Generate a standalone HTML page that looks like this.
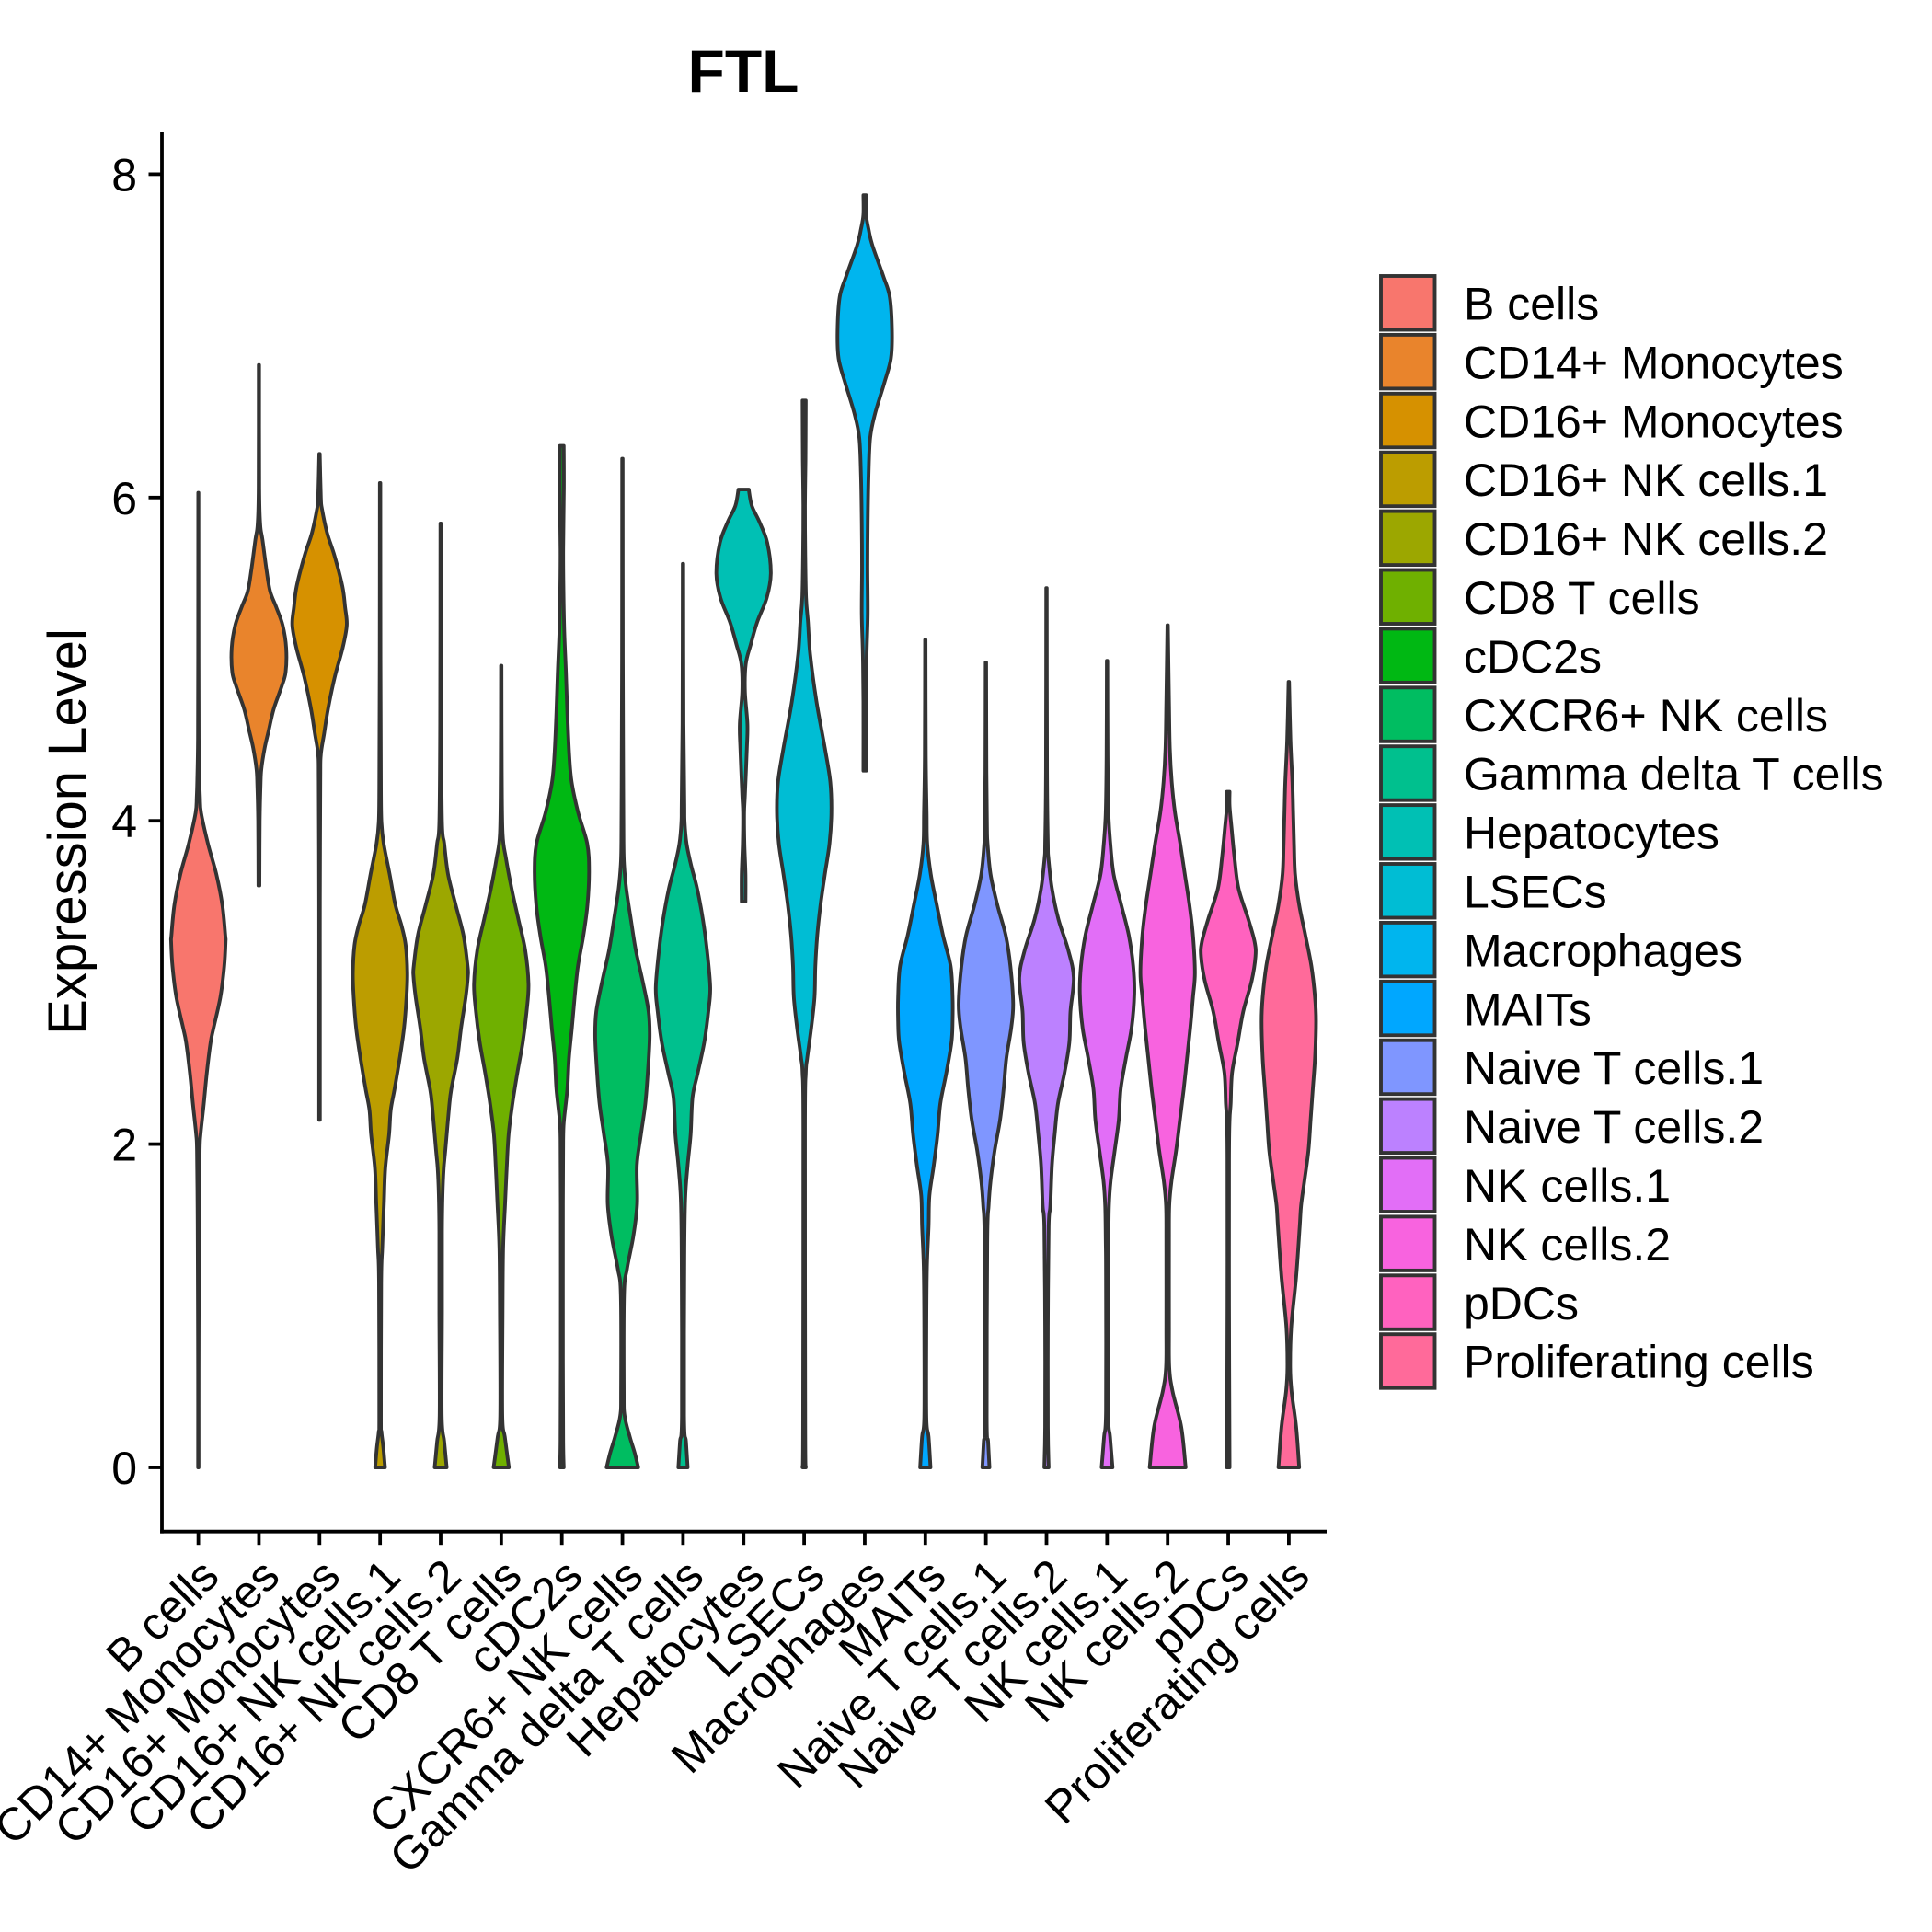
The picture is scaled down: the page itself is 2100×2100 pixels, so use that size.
<!DOCTYPE html>
<html>
<head>
<meta charset="utf-8">
<title>FTL violin plot</title>
<style>
  html, body { margin: 0; padding: 0; background: #ffffff; }
  svg { display: block; }
  text { font-family: "Liberation Sans", Arial, sans-serif; fill: #000000; }
</style>
</head>
<body>
<svg id="chart" xmlns="http://www.w3.org/2000/svg" width="2100" height="2100" viewBox="0 0 2100 2100">
  <rect x="0" y="0" width="2100" height="2100" fill="#ffffff"></rect>
  <text x="808" y="100" font-size="66" font-weight="bold" text-anchor="middle">FTL</text>
  <text transform="translate(93 904) rotate(-90)" font-size="58" text-anchor="middle">Expression Level</text>
  <g id="violins"></g>
  <g id="axes"></g>
  <g id="legend"></g>
</svg>
<script>
const categories = ["B cells", "CD14+ Monocytes", "CD16+ Monocytes", "CD16+ NK cells.1", "CD16+ NK cells.2", "CD8 T cells", "cDC2s", "CXCR6+ NK cells", "Gamma delta T cells", "Hepatocytes", "LSECs", "Macrophages", "MAITs", "Naive T cells.1", "Naive T cells.2", "NK cells.1", "NK cells.2", "pDCs", "Proliferating cells"];
const colors = ["#F8766D", "#E9842C", "#D69100", "#BC9D00", "#9CA700", "#6FB000", "#00B813", "#00BD61", "#00C08E", "#00C0B4", "#00BDD4", "#00B5EE", "#00A7FF", "#7F96FF", "#BC81FF", "#E26EF7", "#F863DF", "#FF62BF", "#FF6A9A"];
const yTicks = [0, 2, 4, 6, 8];

// Expression levels (top to bottom) and relative violin widths for each cell type
const bCellsLevels = [6.03, 5, 4.5, 4.25, 4.145, 4.05, 3.86, 3.67, 3.48, 3.29, 3.25, 3.1, 2.91, 2.72, 2.63, 2.44, 2.25, 2.06, 1.96, 1.6, 1.2, 0.6, 0];
const bCellsWidths = [0.005, 0.008, 0.015, 0.04, 0.06, 0.1, 0.35, 0.66, 0.88, 0.99, 1, 0.95, 0.81, 0.56, 0.45, 0.31, 0.2, 0.08, 0.05, 0.03, 0.02, 0.01, 0.01];

const cd14MonoLevels = [6.82, 6.06, 5.83, 5.74, 5.55, 5.42, 5.32, 5.21, 5.07, 4.92, 4.83, 4.69, 4.56, 4.45, 4.32, 4.22, 4.0, 3.6];
const cd14MonoWidths = [0.008, 0.012, 0.05, 0.13, 0.28, 0.41, 0.64, 0.87, 1, 0.98, 0.83, 0.54, 0.36, 0.21, 0.09, 0.06, 0.03, 0.02];

const cd16MonoLevels = [6.27, 6.0, 5.93, 5.78, 5.64, 5.45, 5.32, 5.21, 5.07, 4.89, 4.69, 4.54, 4.41, 4.25, 3.5, 3.0, 2.15];
const cd16MonoWidths = [0.01, 0.05, 0.09, 0.28, 0.55, 0.84, 0.94, 1, 0.85, 0.56, 0.31, 0.17, 0.05, 0.03, 0.015, 0.015, 0.015];

const cd16Nk1Levels = [6.09, 5, 4.2, 3.99, 3.86, 3.67, 3.48, 3.35, 3.23, 3.06, 2.91, 2.72, 2.53, 2.34, 2.21, 2.06, 1.85, 1.63, 1.36, 1.14, 0.3, 0.22, 0.12, 0];
const cd16Nk1Widths = [0.01, 0.015, 0.03, 0.05, 0.13, 0.35, 0.56, 0.79, 0.94, 1, 0.97, 0.88, 0.72, 0.53, 0.39, 0.33, 0.19, 0.14, 0.08, 0.04, 0.03, 0.05, 0.12, 0.18];

const cd16Nk2Levels = [5.84, 4.6, 3.99, 3.86, 3.67, 3.48, 3.29, 3.1, 3.04, 2.91, 2.72, 2.53, 2.34, 2.23, 1.96, 1.85, 1.69, 1.46, 0.97, 0.32, 0.16, 0];
const cd16Nk2Widths = [0.01, 0.02, 0.05, 0.13, 0.27, 0.55, 0.84, 0.99, 1, 0.92, 0.75, 0.61, 0.39, 0.31, 0.17, 0.11, 0.07, 0.05, 0.05, 0.04, 0.13, 0.22];

const cd8TLevels = [4.96, 4.3, 3.92, 3.77, 3.58, 3.39, 3.2, 2.99, 2.82, 2.63, 2.44, 2.25, 2.06, 1.85, 1.63, 1.36, 0.97, 0.32, 0.19, 0];
const cd8TWidths = [0.01, 0.02, 0.05, 0.17, 0.38, 0.63, 0.88, 1, 0.93, 0.79, 0.59, 0.41, 0.27, 0.2, 0.14, 0.07, 0.05, 0.04, 0.13, 0.28];

const cdc2sLevels = [6.32, 6.06, 5.68, 5.43, 5.17, 4.92, 4.67, 4.41, 4.24, 4.05, 3.86, 3.69, 3.48, 3.29, 3.1, 2.91, 2.72, 2.53, 2.34, 2.15, 2.03, 1.63, 0.65, 0.16, 0];
const cdc2sWidths = [0.07, 0.075, 0.05, 0.06, 0.09, 0.15, 0.2, 0.27, 0.36, 0.6, 0.93, 1, 0.94, 0.79, 0.59, 0.47, 0.37, 0.26, 0.2, 0.08, 0.05, 0.04, 0.04, 0.05, 0.07];

const cxcr6NkLevels = [6.24, 5, 4.2, 3.86, 3.73, 3.58, 3.39, 3.2, 3.01, 2.82, 2.66, 2.44, 2.25, 2.06, 1.87, 1.63, 1.43, 1.23, 1.07, 0.48, 0.32, 0.19, 0.09, 0];
const cxcr6NkWidths = [0.01, 0.015, 0.03, 0.04, 0.06, 0.14, 0.31, 0.49, 0.74, 0.96, 1, 0.93, 0.84, 0.68, 0.53, 0.54, 0.4, 0.17, 0.06, 0.05, 0.08, 0.27, 0.45, 0.58];

const gammaDeltaLevels = [5.59, 4.6, 4.11, 3.99, 3.86, 3.73, 3.58, 3.39, 3.2, 2.97, 2.82, 2.63, 2.44, 2.29, 2.06, 1.87, 1.66, 1.3, 0.32, 0.16, 0];
const gammaDeltaWidths = [0.01, 0.02, 0.05, 0.06, 0.13, 0.29, 0.52, 0.73, 0.88, 1, 0.93, 0.78, 0.54, 0.35, 0.28, 0.17, 0.08, 0.05, 0.04, 0.11, 0.17];

const hepatocytesLevels = [6.05, 5.95, 5.85, 5.72, 5.53, 5.38, 5.23, 5.09, 4.97, 4.8, 4.6, 4.45, 4.16, 4.05, 3.86, 3.67, 3.5];
const hepatocytesWidths = [0.19, 0.3, 0.58, 0.87, 1, 0.85, 0.5, 0.26, 0.08, 0.05, 0.14, 0.12, 0.05, 0.02, 0.03, 0.07, 0.07];

const lsecsLevels = [6.6, 6.23, 5.95, 5.66, 5.38, 5.23, 5.03, 4.74, 4.45, 4.24, 4.05, 3.86, 3.67, 3.48, 3.29, 3.1, 2.91, 2.72, 2.53, 2.44, 2.1, 0.25, 0];
const lsecsWidths = [0.06, 0.05, 0.03, 0.04, 0.07, 0.14, 0.22, 0.45, 0.76, 0.96, 1, 0.93, 0.76, 0.6, 0.48, 0.41, 0.38, 0.26, 0.11, 0.06, 0.03, 0.04, 0.06];

const macrophagesLevels = [7.87, 7.75, 7.66, 7.56, 7.37, 7.24, 7.03, 6.86, 6.71, 6.52, 6.37, 6.14, 5.85, 5.57, 5.28, 5.03, 4.74, 4.31];
const macrophagesWidths = [0.05, 0.05, 0.14, 0.28, 0.68, 0.92, 1, 0.96, 0.72, 0.38, 0.2, 0.14, 0.11, 0.1, 0.11, 0.07, 0.05, 0.05];

const maitsLevels = [5.12, 4.4, 4.05, 3.86, 3.67, 3.48, 3.29, 3.1, 2.91, 2.76, 2.63, 2.44, 2.25, 2.06, 1.87, 1.68, 1.49, 1.24, 0.87, 0.31, 0.19, 0];
const maitsWidths = [0.01, 0.02, 0.05, 0.07, 0.2, 0.42, 0.65, 0.93, 1, 1, 0.96, 0.77, 0.55, 0.45, 0.31, 0.15, 0.12, 0.06, 0.04, 0.04, 0.12, 0.19];

const naiveT1Levels = [4.98, 4.3, 3.96, 3.86, 3.67, 3.48, 3.29, 3.1, 2.87, 2.72, 2.53, 2.34, 2.15, 1.96, 1.77, 1.62, 1.4, 0.31, 0.16, 0];
const naiveT1Widths = [0.01, 0.02, 0.04, 0.06, 0.17, 0.42, 0.73, 0.9, 1, 0.93, 0.75, 0.65, 0.52, 0.32, 0.17, 0.1, 0.05, 0.03, 0.08, 0.13];

const naiveT2Levels = [5.44, 4.3, 3.86, 3.77, 3.58, 3.39, 3.2, 3.03, 2.82, 2.63, 2.44, 2.25, 2.06, 1.87, 1.62, 1.49, 0.87, 0.25, 0];
const naiveT2Widths = [0.01, 0.02, 0.05, 0.07, 0.2, 0.44, 0.8, 1, 0.88, 0.84, 0.66, 0.42, 0.3, 0.2, 0.14, 0.08, 0.05, 0.05, 0.08];

const nk1Levels = [4.99, 4.4, 4.05, 3.86, 3.67, 3.48, 3.29, 3.1, 2.93, 2.72, 2.53, 2.34, 2.15, 1.96, 1.77, 1.62, 1.4, 1.18, 0.35, 0.19, 0];
const nk1Widths = [0.01, 0.02, 0.05, 0.12, 0.24, 0.52, 0.8, 0.96, 1, 0.9, 0.69, 0.5, 0.43, 0.28, 0.13, 0.07, 0.05, 0.04, 0.04, 0.11, 0.2];

const nk2Levels = [5.21, 4.74, 4.45, 4.24, 4.05, 3.86, 3.67, 3.48, 3.29, 3.06, 2.91, 2.72, 2.53, 2.34, 2.15, 1.96, 1.77, 1.62, 1.4, 0.87, 0.62, 0.47, 0.25, 0];
const nk2Widths = [0.01, 0.05, 0.08, 0.15, 0.27, 0.46, 0.63, 0.8, 0.93, 1, 0.93, 0.83, 0.71, 0.59, 0.45, 0.31, 0.14, 0.06, 0.05, 0.05, 0.06, 0.18, 0.5, 0.66];

const pdcsLevels = [4.18, 4.09, 3.96, 3.77, 3.58, 3.39, 3.25, 3.16, 3.01, 2.82, 2.63, 2.44, 2.25, 2.15, 1.9, 1, 0];
const pdcsWidths = [0.05, 0.05, 0.12, 0.23, 0.38, 0.74, 0.97, 1, 0.86, 0.55, 0.35, 0.14, 0.09, 0.05, 0.03, 0.03, 0.05];

const proliferatingLevels = [4.86, 4.5, 4.24, 4.05, 3.86, 3.67, 3.48, 3.29, 3.1, 2.91, 2.76, 2.53, 2.34, 2.15, 1.96, 1.77, 1.62, 1.49, 1.18, 0.87, 0.62, 0.47, 0.25, 0];
const proliferatingWidths = [0.01, 0.06, 0.13, 0.16, 0.19, 0.23, 0.38, 0.61, 0.83, 0.96, 1, 0.96, 0.88, 0.8, 0.72, 0.57, 0.45, 0.4, 0.27, 0.09, 0.05, 0.1, 0.27, 0.38];

const violinLevels = [bCellsLevels, cd14MonoLevels, cd16MonoLevels, cd16Nk1Levels, cd16Nk2Levels, cd8TLevels, cdc2sLevels, cxcr6NkLevels, gammaDeltaLevels, hepatocytesLevels, lsecsLevels, macrophagesLevels, maitsLevels, naiveT1Levels, naiveT2Levels, nk1Levels, nk2Levels, pdcsLevels, proliferatingLevels];
const violinWidths = [bCellsWidths, cd14MonoWidths, cd16MonoWidths, cd16Nk1Widths, cd16Nk2Widths, cd8TWidths, cdc2sWidths, cxcr6NkWidths, gammaDeltaWidths, hepatocytesWidths, lsecsWidths, macrophagesWidths, maitsWidths, naiveT1Widths, naiveT2Widths, nk1Widths, nk2Widths, pdcsWidths, proliferatingWidths];

const SVG_NS = "http://www.w3.org/2000/svg";
const panelLeft = 176, panelRight = 1442, panelTop = 143, panelBottom = 1664.7;
const halfBand = 29.6;

function xScale(i) { return 215.6 + 65.85 * i; }
function yScale(v) { return 1595 - 175.7 * v; }
function widthScale(w) { return w * halfBand; }

function kebab(s) {
  return s.toLowerCase().replace(/\+/g, "-plus").replace(/[^a-z0-9]+/g, "-").replace(/^-|-$/g, "");
}

function smoothSegments(pts) {
  let d = "";
  for (let i = 0; i < pts.length - 1; i++) {
    const p0 = pts[Math.max(0, i - 1)];
    const p1 = pts[i];
    const p2 = pts[i + 1];
    const p3 = pts[Math.min(pts.length - 1, i + 2)];
    const c1x = p1[0] + (p2[0] - p0[0]) / 6;
    const c1y = p1[1] + (p2[1] - p0[1]) / 6;
    const c2x = p2[0] - (p3[0] - p1[0]) / 6;
    const c2y = p2[1] - (p3[1] - p1[1]) / 6;
    d += " C" + c1x.toFixed(2) + " " + c1y.toFixed(2) + " " + c2x.toFixed(2) + " " + c2y.toFixed(2) + " " + p2[0].toFixed(2) + " " + p2[1].toFixed(2);
  }
  return d;
}

function violinPath(i) {
  const levels = violinLevels[i];
  const widths = violinWidths[i];
  const cx = xScale(i);
  const left = levels.map(function (v, k) { return [cx - widthScale(widths[k]), yScale(v)]; });
  const right = levels.map(function (v, k) { return [cx + widthScale(widths[k]), yScale(v)]; }).reverse();
  let d = "M" + left[0][0].toFixed(2) + " " + left[0][1].toFixed(2);
  d += smoothSegments(left);
  d += " L" + right[0][0].toFixed(2) + " " + right[0][1].toFixed(2);
  d += smoothSegments(right);
  return d + " Z";
}

const violinGroup = document.getElementById("violins");
const axesGroup = document.getElementById("axes");
const legendGroup = document.getElementById("legend");

categories.forEach(function (name, i) {
  const path = document.createElementNS(SVG_NS, "path");
  path.setAttribute("d", violinPath(i));
  path.setAttribute("fill", colors[i]);
  path.setAttribute("stroke", "#333333");
  path.setAttribute("stroke-width", "3.9");
  path.setAttribute("stroke-linejoin", "round");
  
  
  violinGroup.appendChild(path);
});

const yAxisLine = document.createElementNS(SVG_NS, "line");
yAxisLine.setAttribute("x1", panelLeft);
yAxisLine.setAttribute("x2", panelLeft);
yAxisLine.setAttribute("y1", panelTop);
yAxisLine.setAttribute("y2", panelBottom + 1.9);
yAxisLine.setAttribute("stroke", "#000000");
yAxisLine.setAttribute("stroke-width", "3.8");


axesGroup.appendChild(yAxisLine);

const xAxisLine = document.createElementNS(SVG_NS, "line");
xAxisLine.setAttribute("x1", panelLeft - 1.9);
xAxisLine.setAttribute("x2", panelRight);
xAxisLine.setAttribute("y1", panelBottom);
xAxisLine.setAttribute("y2", panelBottom);
xAxisLine.setAttribute("stroke", "#000000");
xAxisLine.setAttribute("stroke-width", "3.8");


axesGroup.appendChild(xAxisLine);

yTicks.forEach(function (t) {
  const tick = document.createElementNS(SVG_NS, "line");
  tick.setAttribute("x1", panelLeft - 14.5);
  tick.setAttribute("x2", panelLeft);
  tick.setAttribute("y1", yScale(t));
  tick.setAttribute("y2", yScale(t));
  tick.setAttribute("stroke", "#000000");
  tick.setAttribute("stroke-width", "3.8");
  
  
  axesGroup.appendChild(tick);

  const label = document.createElementNS(SVG_NS, "text");
  label.setAttribute("x", 149);
  label.setAttribute("y", yScale(t) + 18);
  label.setAttribute("font-size", "50");
  label.setAttribute("text-anchor", "end");
  
  
  label.textContent = String(t);
  axesGroup.appendChild(label);
});

categories.forEach(function (name, i) {
  const tick = document.createElementNS(SVG_NS, "line");
  tick.setAttribute("x1", xScale(i));
  tick.setAttribute("x2", xScale(i));
  tick.setAttribute("y1", panelBottom);
  tick.setAttribute("y2", panelBottom + 14.5);
  tick.setAttribute("stroke", "#000000");
  tick.setAttribute("stroke-width", "3.8");
  
  
  axesGroup.appendChild(tick);

  const label = document.createElementNS(SVG_NS, "text");
  label.setAttribute("transform", "translate(" + (xScale(i) + 25) + " 1716) rotate(-45)");
  label.setAttribute("font-size", "50");
  label.setAttribute("text-anchor", "end");
  
  
  label.textContent = name;
  axesGroup.appendChild(label);
});

categories.forEach(function (name, i) {
  const top = 298 + 63.9 * i;
  const key = document.createElementNS(SVG_NS, "rect");
  key.setAttribute("x", 1501);
  key.setAttribute("y", top + 2);
  key.setAttribute("width", 58.5);
  key.setAttribute("height", 58.5);
  key.setAttribute("fill", colors[i]);
  key.setAttribute("stroke", "#333333");
  key.setAttribute("stroke-width", "3.9");
  
  
  legendGroup.appendChild(key);

  const label = document.createElementNS(SVG_NS, "text");
  label.setAttribute("x", 1591);
  label.setAttribute("y", top + 49.5);
  label.setAttribute("font-size", "50");
  
  
  label.textContent = name;
  legendGroup.appendChild(label);
});
</script>
</body>
</html>
